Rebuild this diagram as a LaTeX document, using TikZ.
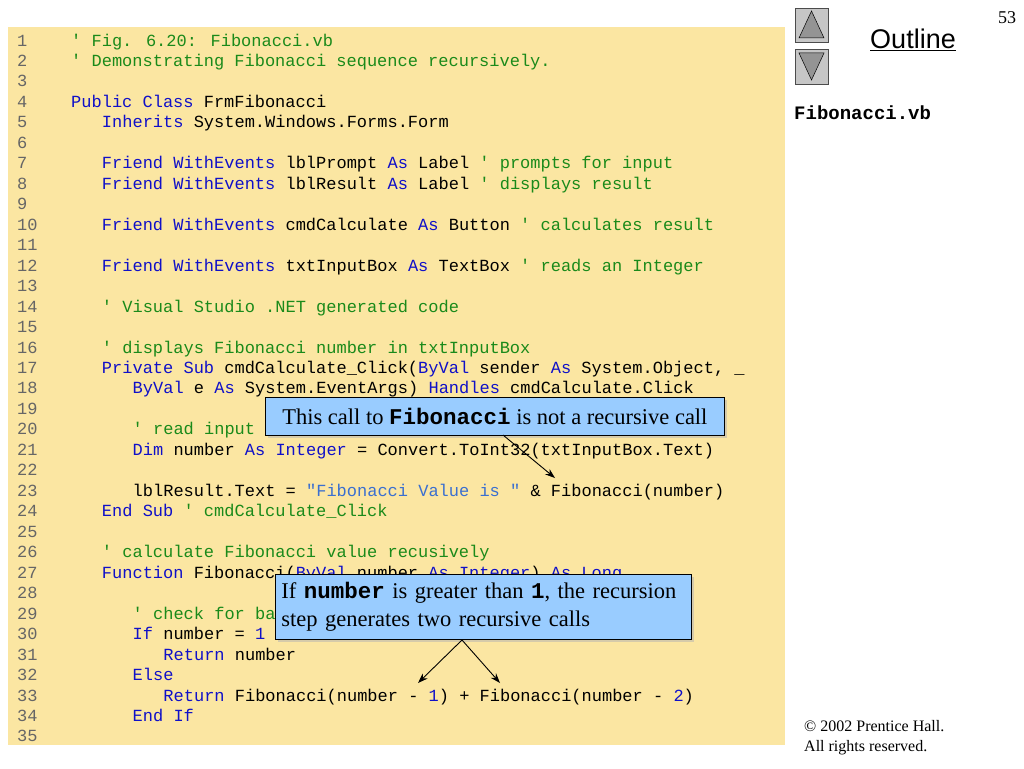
\documentclass[tikz,border=0pt]{standalone}
\usepackage{fontspec}
\setmainfont{Liberation Serif}
\newfontfamily\code{Liberation Mono}
\newfontfamily\arialf{Liberation Sans}
\usetikzlibrary{shadows,arrows.meta}
\definecolor{kw}{HTML}{1010C8}
\definecolor{cm}{HTML}{1A8A1A}
\definecolor{st}{HTML}{3A6FD0}
\definecolor{bg}{HTML}{FBE6A2}
\definecolor{callout}{HTML}{99CCFF}
\newcommand\K[1]{\textcolor{kw}{#1}}
\newcommand\C[1]{\textcolor{cm}{#1}}
\newcommand\Str[1]{\textcolor{st}{#1}}
\newcommand\CL[3]{%
  \pgfmathsetmacro\yy{46+(#1-1)*20.47}%
  \node[codetext,text=gray!80!black] (n#1) at (17,\yy) {#1};
  \node[codetext] (c#1) at ({71+#2*10.25},\yy) {#3};}
\begin{document}
\begin{tikzpicture}[x=1pt,y=-1pt,
  codetext/.style={anchor=base west,inner sep=0,font=\code\fontsize{17}{18}\selectfont},
  callbox/.style={draw=black,fill=callout,line width=0.8pt,drop shadow={shadow xshift=3pt,shadow yshift=-3pt,fill=gray!60},inner sep=0,font=\fontsize{22.5}{28}\selectfont},
  btn/.style={draw=black!70,fill=gray!45,line width=0.6pt},
  tri/.style={draw=black,fill=gray!80!black!70,line width=0.5pt},
  arr/.style={-{Stealth[length=10pt,width=7pt]},line width=0.9pt}]
\useasboundingbox (0,0) rectangle (1024,768);
\fill[white] (0,0) rectangle (1024,768);
\fill[bg] (8,27) rectangle (785,745);
\CL{1}{0}{\C{' Fig. 6.20: Fibonacci.vb}}
\CL{2}{0}{\C{' Demonstrating Fibonacci sequence recursively.}}
\CL{3}{0}{}
\CL{4}{0}{\K{Public} \K{Class} FrmFibonacci}
\CL{5}{3}{\K{Inherits} System.Windows.Forms.Form}
\CL{6}{0}{}
\CL{7}{3}{\K{Friend} \K{WithEvents} lblPrompt \K{As} Label \C{' prompts for input}}
\CL{8}{3}{\K{Friend} \K{WithEvents} lblResult \K{As} Label \C{' displays result}}
\CL{9}{0}{}
\CL{10}{3}{\K{Friend} \K{WithEvents} cmdCalculate \K{As} Button \C{' calculates result}}
\CL{11}{0}{}
\CL{12}{3}{\K{Friend} \K{WithEvents} txtInputBox \K{As} TextBox \C{' reads an Integer}}
\CL{13}{0}{}
\CL{14}{3}{\C{' Visual Studio .NET generated code}}
\CL{15}{0}{}
\CL{16}{3}{\C{' displays Fibonacci number in txtInputBox}}
\CL{17}{3}{\K{Private} \K{Sub} cmdCalculate\_Click(\K{ByVal} sender \K{As} System.Object, \_}
\CL{18}{6}{\K{ByVal} e \K{As} System.EventArgs) \K{Handles} cmdCalculate.Click}
\CL{19}{0}{}
\CL{20}{6}{\C{' read input}}
\CL{21}{6}{\K{Dim} number \K{As} \K{Integer} = Convert.ToInt32(txtInputBox.Text)}
\CL{22}{0}{}
\CL{23}{6}{lblResult.Text = \Str{"Fibonacci Value is "} \& Fibonacci(number)}
\CL{24}{3}{\K{End} \K{Sub} \C{' cmdCalculate\_Click}}
\CL{25}{0}{}
\CL{26}{3}{\C{' calculate Fibonacci value recusively}}
\CL{27}{3}{\K{Function} Fibonacci(\K{ByVal} number \K{As} \K{Integer}) \K{As} \K{Long}}
\CL{28}{0}{}
\CL{29}{6}{\C{' check for base cases}}
\CL{30}{6}{\K{If} number = \K{1} \K{OrElse} number = \K{0} \K{Then}}
\CL{31}{9}{\K{Return} number}
\CL{32}{6}{\K{Else}}
\CL{33}{9}{\K{Return} Fibonacci(number - \K{1}) + Fibonacci(number - \K{2})}
\CL{34}{6}{\K{End} \K{If}}
\CL{35}{0}{}
% callouts
\node[callbox,minimum width=459,minimum height=38,anchor=north west] (b1) at (265,397)
  {This call to \textbf{\code Fibonacci} is not a recursive call};
\coordinate (t1) at (555,478);
\draw[arr] (503,435) -- (t1);
\node[callbox,minimum width=416,minimum height=65,anchor=north west,align=left,text width=404] (b2) at (275,574)
  {If \textbf{\code number} is greater than \textbf{\code 1}, the recursion\\step generates two recursive calls};
\coordinate (a) at (462,640);
\coordinate (t2) at (418,683);
\coordinate (t3) at (500,683);
\draw[arr] (a) -- (t2);
\draw[arr] (a) -- (t3);
% right panel
\draw[btn] (795,8) rectangle (828,42);
\draw[tri] (799,38) -- (811.5,11) -- (824,38) -- cycle;
\draw[btn] (795,49) rectangle (828,84);
\draw[tri] (799,53) -- (811.5,80) -- (824,53) -- cycle;
\node[font=\arialf\fontsize{27}{30}\selectfont,inner sep=0] (ol) at (913,40) {\underline{Outline}};
\node[font=\fontsize{18}{20}\selectfont,inner sep=0] (pg) at (1007,18) {53};
\node[font=\code\bfseries\fontsize{19}{22}\selectfont,anchor=west,inner sep=0] (fn) at (794,113) {Fibonacci.vb};
\node[font=\fontsize{16}{20}\selectfont,anchor=west,align=left,inner sep=0] (cp) at (804,738) {\textcopyright{} 2002 Prentice Hall.\\All rights reserved.};
\end{tikzpicture}
\end{document}
